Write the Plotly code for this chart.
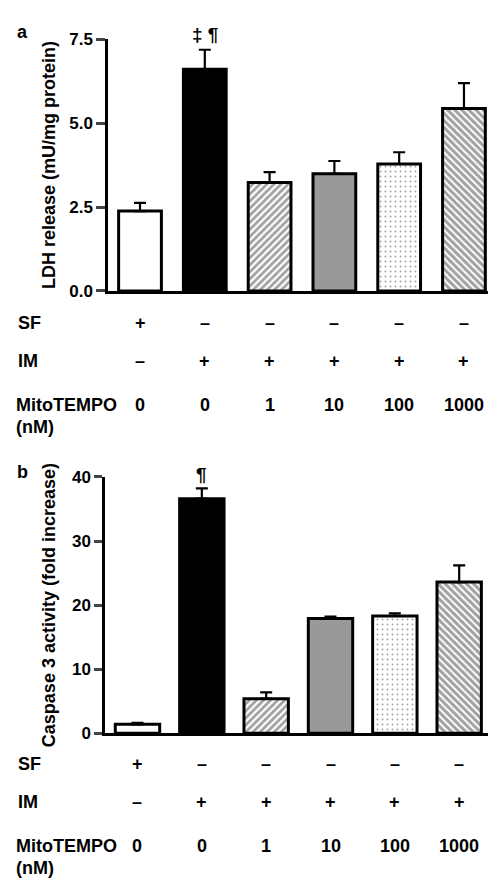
import plotly.graph_objects as go

# ---- data ----
groups = ["SF", "IM 0", "IM+MT 1", "IM+MT 10", "IM+MT 100", "IM+MT 1000"]
ldh_mean = [2.38, 6.60, 3.23, 3.49, 3.78, 5.43]
ldh_sem = [0.24, 0.58, 0.31, 0.38, 0.35, 0.76]
casp_mean = [1.4, 36.6, 5.4, 17.9, 18.3, 23.6]
casp_sem = [0.25, 1.6, 1.0, 0.3, 0.4, 2.6]
sf_row = ["+", "\u2013", "\u2013", "\u2013", "\u2013", "\u2013"]
im_row = ["\u2013", "+", "+", "+", "+", "+"]
mito_row = ["0", "0", "1", "10", "100", "1000"]
ldh_ticks = [0.0, 2.5, 5.0, 7.5]
ldh_ticklabels = ["0.0", "2.5", "5.0", "7.5"]
casp_ticks = [0, 10, 20, 30, 40]

# ---- styles ----
W, H = 496, 886
FONT = "Liberation Sans, Arial, sans-serif"
fills = ["white", "black", "white", "#999999", "white", "white"]
shapes = ["", "", "/", "", ".", "\\"]
pfg = ["black", "black", "black", "black", "#555555", "black"]
psize = [6, 6, 5, 6, 5, 5]
psol = [0.3, 0.3, 0.55, 0.3, 0.12, 0.6]

def py(px):
    return 1 - px / H

fig = go.Figure()
xs = list(range(len(groups)))

def add_bars(means, sems, xa, ya, width):
    fig.add_trace(go.Bar(
        x=xs, y=means, width=width, xaxis=xa, yaxis=ya,
        marker=dict(color=fills, line=dict(color="black", width=3),
                    pattern=dict(shape=shapes, fgcolor=pfg, bgcolor=fills,
                                 size=psize, solidity=psol, fillmode="overlay")),
        error_y=dict(type="data", array=sems, arrayminus=[0]*len(sems),
                     symmetric=False, color="black", thickness=2.2, width=6),
        showlegend=False, hoverinfo="skip"))

add_bars(ldh_mean, ldh_sem, "x", "y", 0.66)
add_bars(casp_mean, casp_sem, "x2", "y2", 0.69)

axis_common = dict(showgrid=False, zeroline=False, showline=True, linecolor="black")
fig.update_layout(
    width=W, height=H, margin=dict(l=0, r=0, t=0, b=0),
    paper_bgcolor="white", plot_bgcolor="white",
    font=dict(family=FONT, color="black"),
    xaxis=dict(domain=[100 / W, 489 / W], range=[-0.494, 5.51], showticklabels=False,
               ticks="", linewidth=3, **axis_common),
    yaxis=dict(domain=[py(280), py(22.5)], range=[0, 7.5], tickvals=ldh_ticks,
               ticktext=ldh_ticklabels, ticks="outside", ticklen=9, tickwidth=2.5,
               linewidth=2.5, tickfont=dict(size=17, weight="bold"),
               title=dict(text="LDH release (mU/mg protein)", standoff=9,
                          font=dict(size=18, weight="bold")),
               **axis_common),
    xaxis2=dict(domain=[97 / W, 484 / W], range=[-0.505, 5.51], showticklabels=False,
                ticks="", linewidth=3, anchor="y2", **axis_common),
    yaxis2=dict(domain=[py(732), py(470)], range=[0, 40], tickvals=casp_ticks,
                ticks="outside", ticklen=8, tickwidth=2.5, anchor="x2",
                linewidth=2.5, tickfont=dict(size=17, weight="bold"),
                title=dict(text="Caspase 3 activity (fold increase)", standoff=12,
                           font=dict(size=18, weight="bold")),
                **axis_common),
)

ann = []
def txt(text, x, y, xref, size=18, xanchor="center"):
    ann.append(dict(text=text, x=x, y=y, xref=xref, yref="paper", showarrow=False,
                    xanchor=xanchor, yanchor="middle",
                    font=dict(size=size, family=FONT, weight="bold", color="black")))

# table rows
for xr, rows_y, names_y in [("x", (313, 352, 396), 419), ("x2", (763, 802, 847), 870)]:
    txt("SF", 8 / W, py(rows_y[0]), "paper", xanchor="left")
    txt("IM", 8 / W, py(rows_y[1]), "paper", xanchor="left")
    txt("MitoTEMPO", 6 / W, py(rows_y[2]), "paper", xanchor="left")
    txt("(nM)", 6 / W, py(names_y), "paper", xanchor="left")
    for i in xs:
        txt(sf_row[i], i, py(rows_y[0]), xr)
        txt(im_row[i], i, py(rows_y[1]), xr)
        txt(mito_row[i], i, py(rows_y[2]), xr)

# panel letters
txt("a", 7 / W, py(15), "paper", size=18, xanchor="left")
txt("b", 7 / W, py(465), "paper", size=18, xanchor="left")

# significance marks above the IM bar
ann.append(dict(text="\u2021 \u00b6", x=1, y=ldh_mean[1] + ldh_sem[1], xref="x", yref="y",
                yanchor="bottom", yshift=3, showarrow=False,
                font=dict(size=19, family=FONT, weight="bold")))
ann.append(dict(text="\u00b6", x=1, y=casp_mean[1] + casp_sem[1], xref="x2", yref="y2",
                yanchor="bottom", yshift=1, showarrow=False,
                font=dict(size=19, family=FONT, weight="bold")))

fig.update_layout(annotations=ann)
fig.write_html("out.html")
